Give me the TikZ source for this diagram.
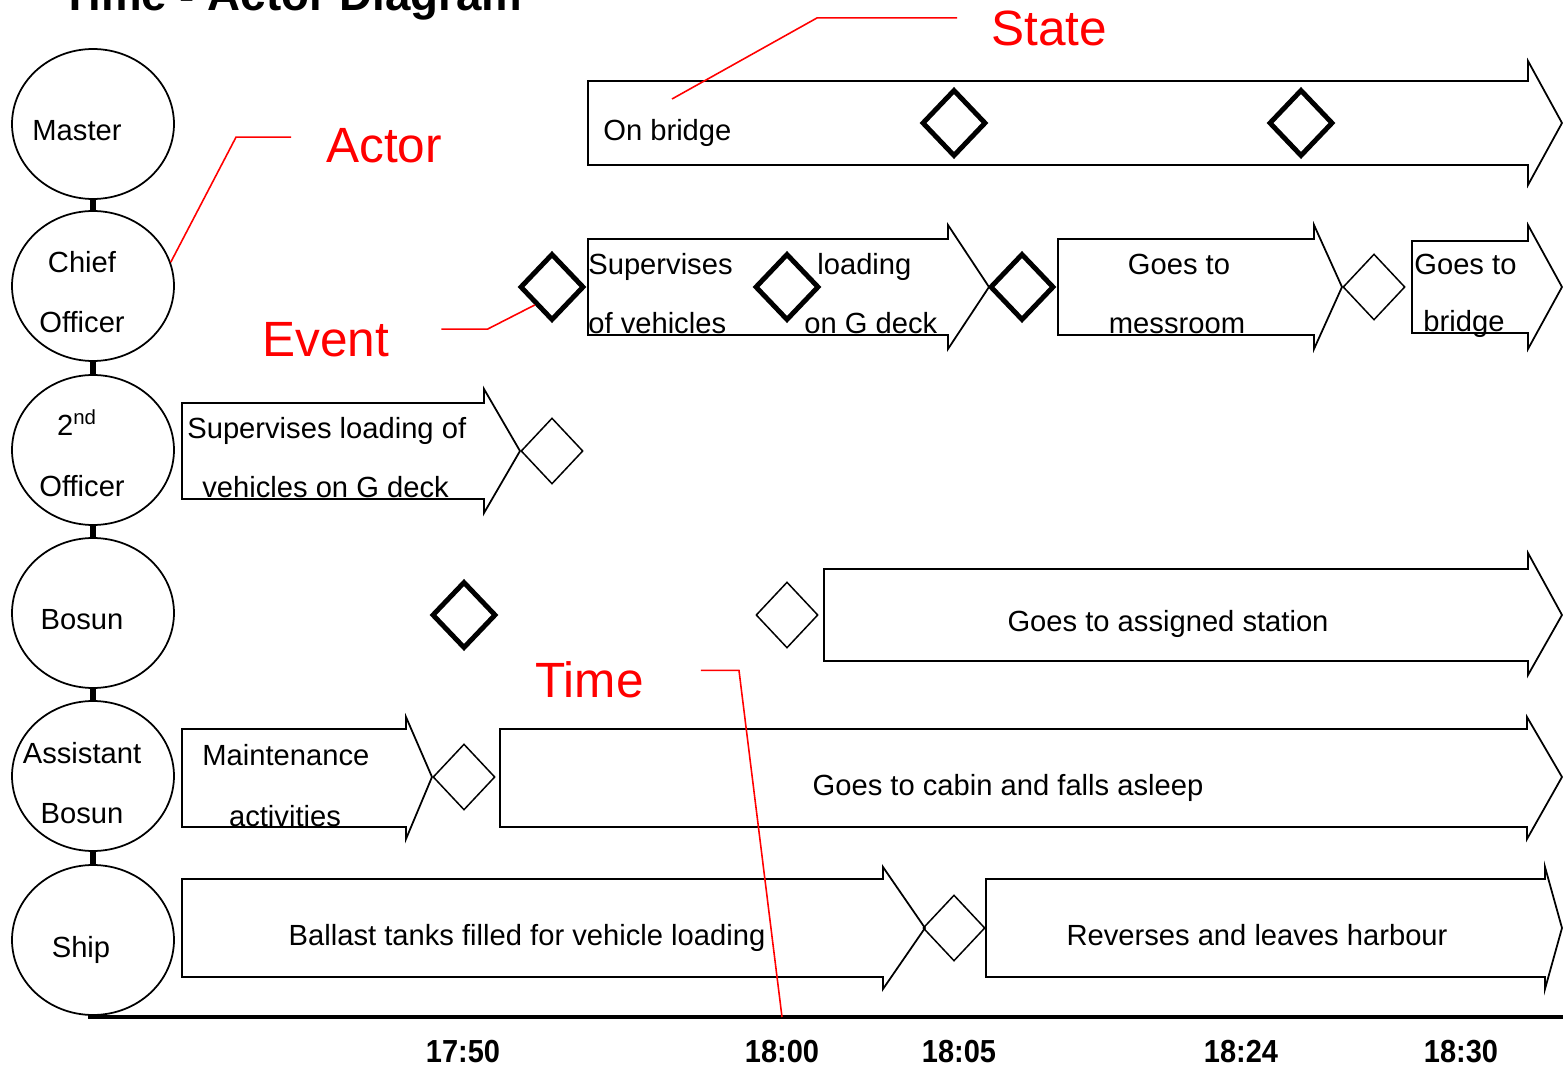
\documentclass[tikz,border=0pt]{standalone}
\usepackage{fontspec}
\setmainfont{Liberation Sans}
\usetikzlibrary{shapes.geometric}

\tikzset{
  actor/.style={draw, ellipse, line width=1pt, minimum width=32.4mm, minimum height=30mm, inner sep=0pt},
  link/.style={line width=3pt},
  statebox/.style={draw, line width=1pt, line join=miter},
  event/.style={draw, diamond, line width=2.8pt, minimum width=12.8mm, minimum height=13.4mm, inner sep=0pt},
  change/.style={draw, diamond, line width=0.85pt, minimum width=12.4mm, minimum height=13.2mm, inner sep=0pt},
  txt/.style={font=\fontsize{16.6}{20}\selectfont, inner sep=0pt},
  note/.style={red, line width=0.9pt},
  notetxt/.style={red, font=\fontsize{28.2}{32}\selectfont, inner sep=0pt, anchor=base west},
  timelbl/.style={font=\bfseries\fontsize{16.5}{20}\selectfont, inner sep=0pt, anchor=base, yscale=1.1},
  timeline/.style={line width=2.8pt},
}

\begin{document}
\begin{tikzpicture}[x=0.02cm, y=-0.02cm]

	\useasboundingbox (0,0) rectangle (1563,1067);

	% title, cut by the top edge
	\node[anchor=base west, inner sep=0pt, font=\bfseries\fontsize{26}{30}\selectfont] (title) at (61,11) {Time - Actor Diagram};

	% actors %
	\node[actor] (master) at (93,124) {};
	\node[actor] (chief) at (93,286) {};
	\node[actor] (second) at (93,450) {};
	\node[actor] (bosun) at (93,613) {};
	\node[actor] (asstbosun) at (93,776) {};
	\node[actor] (ship) at (93,940) {};

	\draw[link] (master) -- (chief);
	\draw[link] (chief) -- (second);
	\draw[link] (second) -- (bosun);
	\draw[link] (bosun) -- (asstbosun);
	\draw[link] (asstbosun) -- (ship);

	\node[txt, anchor=base] (masterlbl) at (77,141) {Master};
	\node[txt, anchor=base] (chieflbl) at (82,273) {Chief};
	\node[txt, anchor=base] (chieflblb) at (82,333) {Officer};
	\node[txt, anchor=base] (secondlbl) at (77,436) {2\textsuperscript{nd}};
	\node[txt, anchor=base] (secondlblb) at (82,497) {Officer};
	\node[txt, anchor=base] (bosunlbl) at (82,629) {Bosun};
	\node[txt, anchor=base] (asstlbl) at (82,763) {Assistant};
	\node[txt, anchor=base] (asstlblb) at (82,823) {Bosun};
	\node[txt, anchor=base] (shiplbl) at (81,957) {Ship};

	% time axis %
	\coordinate (axisstart) at (88,1017);
	\coordinate (axisend) at (1563,1017);
	\coordinate (t1800) at (782,1017);
	\draw[timeline] (axisstart) -- (axisend);

	\node[timelbl] (t1) at (463,1062) {17:50};
	\node[timelbl] (t2) at (782,1062) {18:00};
	\node[timelbl] (t3) at (959,1062) {18:05};
	\node[timelbl] (t4) at (1241,1062) {18:24};
	\node[timelbl] (t5) at (1461,1062) {18:30};

	% master row %
	\draw[statebox] (588,81) -- (1528,81) -- (1528,61) -- (1562,123) -- (1528,185) -- (1528,165) -- (588,165) -- cycle;
	\node[txt, anchor=base west] (onbridge) at (603,141) {On bridge};
	\node[event] (ev1) at (954,123) {};
	\node[event] (ev2) at (1301,123) {};

	% chief officer row %
	\draw[statebox] (588,239) -- (948,239) -- (948,225) -- (989,287) -- (948,349) -- (948,335) -- (588,335) -- cycle;
	\draw[statebox] (1058,239) -- (1314,239) -- (1314,225) -- (1342,287) -- (1314,349) -- (1314,335) -- (1058,335) -- cycle;
	\draw[statebox] (1412,241) -- (1528,241) -- (1528,225) -- (1562,287) -- (1528,349) -- (1528,333) -- (1412,333) -- cycle;
	\node[event] (ev3) at (552,287) {};
	\node[event] (ev4) at (787,287) {};
	\node[event] (ev5) at (1022,287) {};
	\node[change] (ch1) at (1374,287) {};
	\node[txt, anchor=base west] (supa) at (588,275) {Supervises};
	\node[txt, anchor=base west] (supb) at (588,334) {of vehicles};
	\node[txt, anchor=base west] (supc) at (817,275) {loading};
	\node[txt, anchor=base west] (supd) at (804,334) {on G deck};
	\node[txt, anchor=base] (messa) at (1179,275) {Goes to};
	\node[txt, anchor=base] (messb) at (1177,334) {messroom};
	\node[txt, anchor=base west] (bridgea) at (1414,275) {Goes to};
	\node[txt, anchor=base] (bridgeb) at (1464,332) {bridge};

	% 2nd officer row %
	\draw[statebox] (182,403) -- (484,403) -- (484,389) -- (520,451) -- (484,513) -- (484,499) -- (182,499) -- cycle;
	\node[change] (ch2) at (552,451) {};
	\node[txt, anchor=base west] (loada) at (187,439) {Supervises loading of};
	\node[txt, anchor=base west] (loadb) at (202,498) {vehicles on G deck};

	% bosun row %
	\node[event] (ev6) at (464,615) {};
	\node[change] (ch3) at (787,615) {};
	\draw[statebox] (824,569) -- (1528,569) -- (1528,553) -- (1562,615) -- (1528,675) -- (1528,661) -- (824,661) -- cycle;
	\node[txt, anchor=base] (station) at (1168,631) {Goes to assigned station};

	% assistant bosun row %
	\draw[statebox] (182,729) -- (406,729) -- (406,717) -- (432,777) -- (406,839) -- (406,827) -- (182,827) -- cycle;
	\node[change] (ch4) at (464,777) {};
	\draw[statebox] (500,729) -- (1527,729) -- (1527,717) -- (1562,777) -- (1527,839) -- (1527,827) -- (500,827) -- cycle;
	\node[txt, anchor=base west] (mainta) at (202,765) {Maintenance};
	\node[txt, anchor=base] (maintb) at (285,826) {activities};
	\node[txt, anchor=base] (cabin) at (1008,795) {Goes to cabin and falls asleep};

	% ship row %
	\draw[statebox] (182,879) -- (883,879) -- (883,867) -- (925,928) -- (883,989) -- (883,977) -- (182,977) -- cycle;
	\node[change] (ch5) at (954,928) {};
	\draw[statebox] (986,879) -- (1545,879) -- (1545,867) -- (1562,928) -- (1545,989) -- (1545,977) -- (986,977) -- cycle;
	\node[txt, anchor=base] (ballast) at (527,945) {Ballast tanks filled for vehicle loading};
	\node[txt, anchor=base] (harbour) at (1257,945) {Reverses and leaves harbour};

	% red notes %
	\node[notetxt] (statenote) at (991,46) {State};
	\node[notetxt] (actornote) at (326,163) {Actor};
	\node[notetxt] (eventnote) at (262,357) {Event};
	\node[notetxt] (timenote) at (535,697) {Time};

	\coordinate (stateend) at (672,99);
	\draw[note] ([shift={(-34,-11)}]statenote.west) -- ++(-140,0) -- (stateend);
	\draw[note] ([shift={(-35,-9)}]actornote.west) -- ++(-55,0) -- (chief.17);
	\draw[note] ([shift={(52,-11)}]eventnote.east) -- ++(46,0) -- (ev3.south west);
	\draw[note] ([shift={(57,-9)}]timenote.east) -- ++(38,0) -- (t1800);

\end{tikzpicture}
\end{document}
